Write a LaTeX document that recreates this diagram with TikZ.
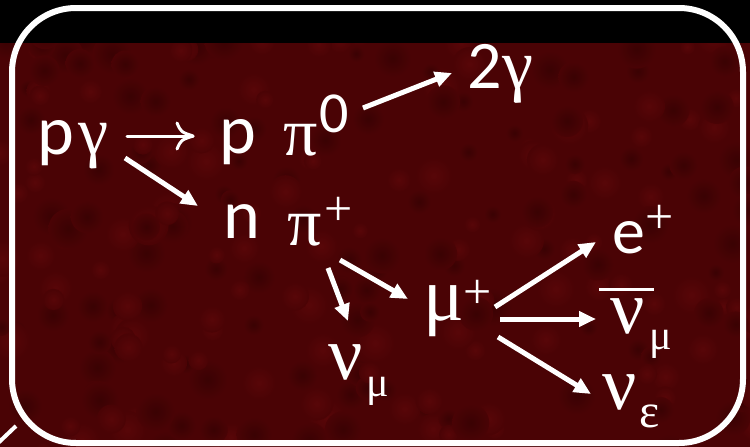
\documentclass[tikz,border=0pt]{standalone}
\usepackage{fontspec}
\setmainfont{Carlito}
\newfontfamily\grk{Liberation Serif}
\usetikzlibrary{arrows.meta}
\definecolor{bgred}{RGB}{74,3,5}
\definecolor{bgdark}{RGB}{58,2,3}
\definecolor{bglight}{RGB}{88,6,8}
\newcommand{\fs}[1]{\fontsize{#1}{#1}\selectfont}
\tikzset{
  glyph/.style={text=white, inner sep=0pt, outer sep=0pt, anchor=center},
  fatarrow/.style={draw=white, line width=5pt, -{Triangle[length=17pt,width=15pt]}},
  thinline/.style={draw=white, line width=3pt, line cap=round}
}
\begin{document}
\begin{tikzpicture}[x=1pt,y=-1pt]
\useasboundingbox (0,0) rectangle (750,447);
\fill[bgred] (0,0) rectangle (750,447);
\begin{scope}
  \clip (0,43) rectangle (750,447);
  \pgfmathsetseed{4242}
  \foreach \i in {1,...,260}{
    \pgfmathsetmacro{\bx}{rnd*770-10}
    \pgfmathsetmacro{\by}{rnd*430+30}
    \pgfmathsetmacro{\br}{rnd*12+8}
    \pgfmathsetmacro{\bk}{rnd}
    \ifdim\bk pt<0.5pt
      \shade[inner color=bgdark, outer color=bgred] (\bx,\by) circle[radius=\br];
    \else
      \shade[inner color=bglight, outer color=bgred] (\bx,\by) circle[radius=\br];
    \fi
  }
\end{scope}
\fill[black] (0,0) rectangle (750,43);
\draw[white, line width=6pt, rounded corners=64pt] (12,8) rectangle (743,443);
\draw[white, line width=4pt] (-4,445) -- (16,426);

% nodes
\node[glyph, font=\fs{70}] (p1) at (56,143) {p};
\node[glyph, font=\grk\fs{68}] (g1) at (93.5,146) {γ};
\node[glyph, font=\fs{70}] (p2) at (237.5,142.5) {p};
\node[glyph, font=\grk\fs{68}] (pi0) at (300.5,140) {π};
\node[glyph, font=\fs{58}] (zero) at (334.5,113.5) {0};
\node[glyph, font=\fs{68}] (two) at (485,66.5) {2};
\node[glyph, font=\grk\fs{70}] (g2) at (518,80) {γ};
\node[glyph, font=\fs{70}] (n) at (242,221.5) {n};
\node[glyph, font=\grk\fs{68}] (pip) at (304.5,230) {π};
\node[glyph, font=\grk\fs{50}] (plus1) at (338.5,211.5) {+};
\node[glyph, font=\grk\fs{76}] (mu) at (443.5,311) {μ};
\node[glyph, font=\grk\fs{50}] (plus2) at (478,294.5) {+};
\node[glyph, font=\grk\fs{76}] (nu1) at (346,362.5) {ν};
\node[glyph, font=\grk\fs{42}] (mus1) at (377.5,391) {μ};
\node[glyph, font=\fs{66}] (e) at (629,238) {e};
\node[glyph, font=\grk\fs{50}] (plus3) at (660,219.5) {+};
\node[glyph, font=\grk\fs{76}] (nu2) at (627.5,316.5) {ν};
\node[glyph, font=\grk\fs{42}] (mus2) at (661,344) {μ};
\node[glyph, font=\grk\fs{76}] (nu3) at (619.5,392.5) {ν};
\node[glyph, font=\grk\fs{48}] (eps) at (650,416) {ε};

% bar over nu
\coordinate (barL) at (599,289);
\coordinate (barR) at (654,289);
\draw[white, line width=3pt] (barL) -- (barR);

% arrow endpoints
\coordinate (t0s) at (127,136); \coordinate (t0e) at (193,136);
\coordinate (a1s) at (125,158); \coordinate (a1e) at (198,206);
\coordinate (a2s) at (363,108); \coordinate (a2e) at (452,73);
\coordinate (a3s) at (328,268); \coordinate (a3e) at (348,321);
\coordinate (a4s) at (340,260); \coordinate (a4e) at (408,299);
\coordinate (a5s) at (495,307); \coordinate (a5e) at (596,242);
\coordinate (a6s) at (500,319); \coordinate (a6e) at (596,319);
\coordinate (a7s) at (498,337); \coordinate (a7e) at (591,394);

% long thin arrow (pgamma -> p pi0) with curved barbs
\draw[thinline] (t0s) -- (t0e);
\draw[thinline, line join=round]
  ([shift={(-16,-13)}]t0e) .. controls ([shift={(-12,-4)}]t0e) .. (t0e)
  .. controls ([shift={(-12,4)}]t0e) .. ([shift={(-16,13)}]t0e);

\draw[fatarrow] (a1s) -- (a1e);
\draw[fatarrow] (a2s) -- (a2e);
\draw[fatarrow] (a3s) -- (a3e);
\draw[fatarrow] (a4s) -- (a4e);
\draw[fatarrow] (a5s) -- (a5e);
\draw[fatarrow] (a6s) -- (a6e);
\draw[fatarrow] (a7s) -- (a7e);
\end{tikzpicture}
\end{document}
